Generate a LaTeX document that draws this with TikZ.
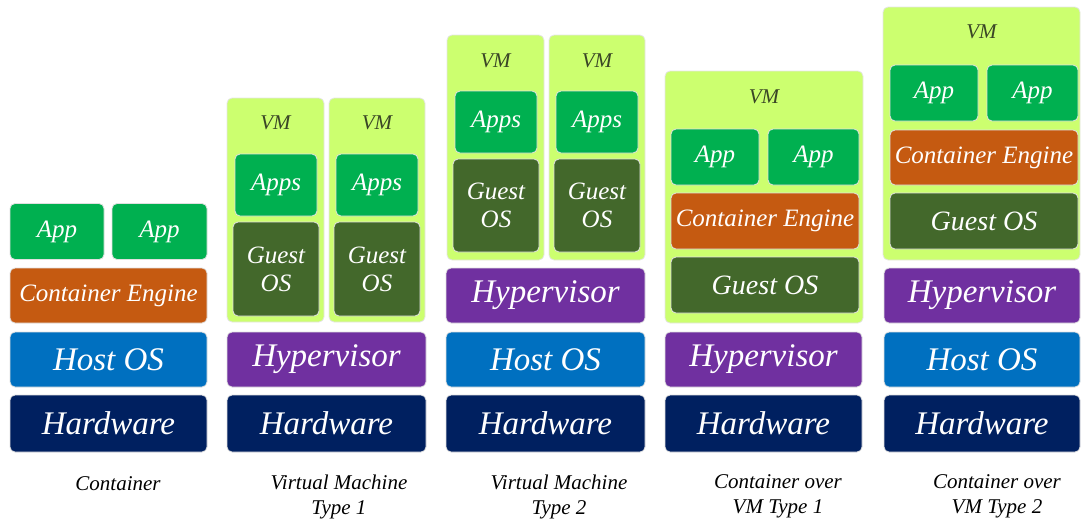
\documentclass[tikz,border=0pt]{standalone}
\usepackage{fontspec}
\setmainfont{Liberation Serif}
\usepackage{tikz}
\definecolor{appgreen}{HTML}{00B050}
\definecolor{engorange}{HTML}{C55A11}
\definecolor{hostblue}{HTML}{0070C0}
\definecolor{hwnavy}{HTML}{002060}
\definecolor{hyppurple}{HTML}{7030A0}
\definecolor{guestgreen}{HTML}{43682B}
\definecolor{vmlime}{HTML}{CCFF6F}
\definecolor{vmtext}{HTML}{3A4626}
\tikzstyle{box} = [rectangle, draw=black!12, line width=0.8pt, rounded corners=5pt,
inner sep=0pt, text=white, align=center]
\tikzstyle{layer} = [box, minimum width=197pt, minimum height=55pt,
font=\fontsize{33}{36}\selectfont\itshape]
\tikzstyle{hw} = [layer, fill=hwnavy, minimum height=57pt]
\tikzstyle{hostos} = [layer, fill=hostblue]
\tikzstyle{hyper} = [layer, fill=hyppurple]
\tikzstyle{engine} = [box, fill=engorange, minimum height=55pt,
font=\fontsize{25}{28}\selectfont\itshape]
\tikzstyle{app} = [box, fill=appgreen, minimum height=56pt,
font=\fontsize{25}{28}\selectfont\itshape]
\tikzstyle{guest} = [box, fill=guestgreen, font=\fontsize{25}{28}\selectfont\itshape]
\tikzstyle{vm} = [box, fill=vmlime, draw=black!10]
\tikzstyle{vmlabel} = [text=vmtext, font=\fontsize{21}{24}\selectfont\itshape]
\tikzstyle{caption} = [align=center, font=\fontsize{21}{25}\selectfont\itshape]

\begin{document}
\begin{tikzpicture}[x=1pt, y=-1pt]
    \useasboundingbox (0,0) rectangle (1081,520);

    % Container
    \node [hw] (hwA) at (108.5,423.5) {Hardware};
    \node [hostos] (hostA) at (108.5,359.5) {Host OS};
    \node [engine, minimum width=197pt] (engA) at (108.5,295.5) {Container Engine};
    \node [app, minimum width=94pt] (appA1) at (57,231.5) {App};
    \node [app, minimum width=95pt] (appA2) at (159.5,231.5) {App};
    \node [caption] (capA) at (118,484) {Container};

    % Virtual Machine Type 1
    \node [hw, minimum width=199pt] (hwB) at (326.5,423.5) {Hardware};
    \node [hyper, minimum width=199pt] (hypB) at (326.5,359.5) {Hypervisor};
    \node [vm, minimum width=97pt, minimum height=224pt] (vmB1) at (275.5,210) {};
    \node [vm, minimum width=96pt, minimum height=224pt] (vmB2) at (377,210) {};
    \node [vmlabel] at (275.5,123) {VM};
    \node [vmlabel] at (377,123) {VM};
    \node [app, minimum width=82pt, minimum height=62pt] (appB1) at (276,185) {Apps};
    \node [app, minimum width=82pt, minimum height=62pt] (appB2) at (377,185) {Apps};
    \node [guest, minimum width=86pt, minimum height=94pt] (gB1) at (276,269) {Guest\\OS};
    \node [guest, minimum width=86pt, minimum height=94pt] (gB2) at (377,269) {Guest\\OS};
    \node [caption] (capB) at (339,496.5) {Virtual Machine\\Type 1};

    % Virtual Machine Type 2
    \node [hw, minimum width=199pt] (hwC) at (545.5,423.5) {Hardware};
    \node [hostos, minimum width=199pt] (hostC) at (545.5,359.5) {Host OS};
    \node [hyper, minimum width=199pt] (hypC) at (545.5,295.5) {Hypervisor};
    \node [vm, minimum width=97pt, minimum height=225pt] (vmC1) at (495.5,147.5) {};
    \node [vm, minimum width=96pt, minimum height=225pt] (vmC2) at (597,147.5) {};
    \node [vmlabel] at (495.5,61) {VM};
    \node [vmlabel] at (597,61) {VM};
    \node [app, minimum width=82pt, minimum height=62pt] (appC1) at (496,122) {Apps};
    \node [app, minimum width=82pt, minimum height=62pt] (appC2) at (597,122) {Apps};
    \node [guest, minimum width=86pt, minimum height=93pt] (gC1) at (496,205.5) {Guest\\OS};
    \node [guest, minimum width=86pt, minimum height=93pt] (gC2) at (597,205.5) {Guest\\OS};
    \node [caption] (capC) at (559,496.5) {Virtual Machine\\Type 2};

    % Container over VM Type 1
    \node [hw] (hwD) at (763.5,423.5) {Hardware};
    \node [hyper] (hypD) at (763.5,359.5) {Hypervisor};
    \node [vm, minimum width=198pt, minimum height=252pt] (vmD) at (764,197) {};
    \node [vmlabel] at (764,97) {VM};
    \node [app, minimum width=88pt] (appD1) at (715,157) {App};
    \node [app, minimum width=91pt] (appD2) at (813.5,157) {App};
    \node [engine, minimum width=188pt, minimum height=56pt] (engD) at (765,221) {Container Engine};
    \node [guest, minimum width=188pt, minimum height=56pt,
      font=\fontsize{28}{30}\selectfont\itshape] (gD) at (765,285) {Guest OS};
    \node [caption] (capD) at (778,496.5) {Container over\\VM Type 1};

    % Container over VM Type 2
    \node [hw, minimum width=196pt] (hwE) at (982,423.5) {Hardware};
    \node [hostos, minimum width=196pt] (hostE) at (982,359.5) {Host OS};
    \node [hyper, minimum width=196pt] (hypE) at (982,295.5) {Hypervisor};
    \node [vm, minimum width=197pt, minimum height=253pt] (vmE) at (981.5,133.5) {};
    \node [vmlabel] at (981.5,32) {VM};
    \node [app, minimum width=88pt] (appE1) at (934,93) {App};
    \node [app, minimum width=91pt] (appE2) at (1032.5,93) {App};
    \node [engine, minimum width=188pt] (engE) at (984,157.5) {Container Engine};
    \node [guest, minimum width=188pt, minimum height=56pt,
      font=\fontsize{28}{30}\selectfont\itshape] (gE) at (984,221) {Guest OS};
    \node [caption] (capE) at (997,496.5) {Container over\\VM Type 2};
\end{tikzpicture}
\end{document}
